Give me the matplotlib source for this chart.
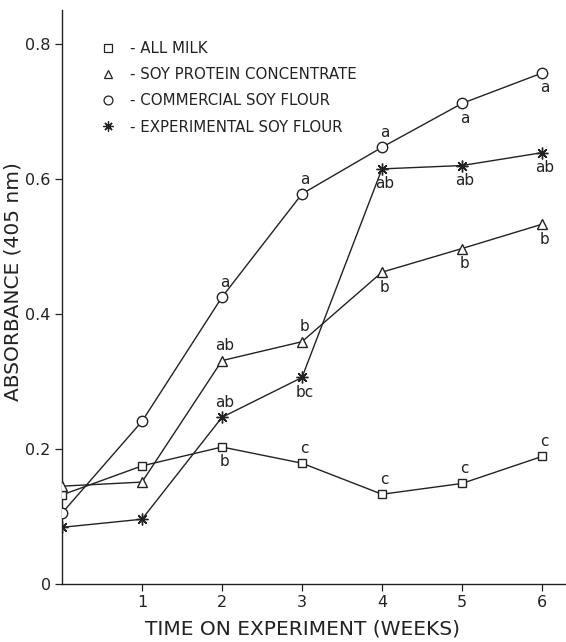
import matplotlib.pyplot as plt
from matplotlib.lines import Line2D

weeks = [0, 1, 2, 3, 4, 5, 6]
milk = [0.132, 0.175, 0.203, 0.179, 0.133, 0.149, 0.189]
spc = [0.145, 0.151, 0.331, 0.359, 0.462, 0.497, 0.533]
csf = [0.105, 0.241, 0.425, 0.578, 0.647, 0.712, 0.757]
esf = [0.084, 0.096, 0.247, 0.306, 0.615, 0.620, 0.639]

names = ['ALL MILK', 'SOY PROTEIN CONCENTRATE',
         'COMMERCIAL SOY FLOUR', 'EXPERIMENTAL SOY FLOUR']

# significance letters for weeks 2..6, with position (above / below)
milk_lab = [('b', 'd'), ('c', 'u'), ('c', 'u'), ('c', 'u'), ('c', 'u')]
spc_lab = [('ab', 'u'), ('b', 'u'), ('b', 'd'), ('b', 'd'), ('b', 'd')]
csf_lab = [('a', 'u'), ('a', 'u'), ('a', 'u'), ('a', 'd'), ('a', 'd')]
esf_lab = [('ab', 'u'), ('bc', 'd'), ('ab', 'd'), ('ab', 'd'), ('ab', 'd')]

ink = '#222222'
plt.rcParams['font.family'] = 'DejaVu Sans'
fig = plt.figure(figsize=(5.66, 6.42), dpi=100)
ax = fig.add_axes([0.1095, 0.0903, 0.8905, 0.8937])

series = [
    (milk, milk_lab, dict(marker='s', ms=6, mfc='white')),
    (spc, spc_lab, dict(marker='^', ms=6.5, mfc='white')),
    (csf, csf_lab, dict(marker='o', ms=7.5, mfc='white')),
    (esf, esf_lab, dict(marker=(8, 2, 0), ms=8.5, mfc=ink)),
]
handles = []
for (vals, labs, st), name in zip(series, names):
    ax.plot(weeks, vals, color=ink, lw=1.0, mec=ink, mew=1.0, zorder=3, **st)
    handles.append(Line2D([], [], ls='none', color=ink, mec=ink, mew=0.9,
                          **{**st, 'ms': st['ms'] * 0.85}))
    for w, v, (txt, pos) in zip(weeks[2:], vals[2:], labs):
        off = 0.022 if pos == 'u' else -0.022
        ax.text(w + 0.03, v + off, txt, ha='center', va='center',
                fontsize=11, color=ink)

ax.legend(handles, ['- ' + n for n in names], loc='upper left',
          bbox_to_anchor=(0.055, 0.97), frameon=False, fontsize=10.8,
          handlelength=0.6, handletextpad=1.2, labelspacing=0.75,
          labelcolor=ink)

ax.set_xlim(0, 6.3)
ax.set_ylim(0, 0.85)
ax.set_xticks([1, 2, 3, 4, 5, 6])
ax.set_yticks([0, 0.2, 0.4, 0.6, 0.8])
ax.set_yticklabels(['0', '0.2', '0.4', '0.6', '0.8'])
ax.tick_params(colors=ink, labelsize=11.5, length=5, width=0.9, pad=3)
for s in ['top', 'right']:
    ax.spines[s].set_visible(False)
for s in ['left', 'bottom']:
    ax.spines[s].set_color(ink)
    ax.spines[s].set_linewidth(1.0)
ax.set_xlabel('TIME ON EXPERIMENT (WEEKS)', fontsize=14.5, color=ink)
ax.xaxis.set_label_coords(0.478, -0.062)
ax.set_ylabel('ABSORBANCE (405 nm)', fontsize=14.5, color=ink)
ax.yaxis.set_label_coords(-0.078, 0.528)

fig.savefig('out.png', dpi=100)
